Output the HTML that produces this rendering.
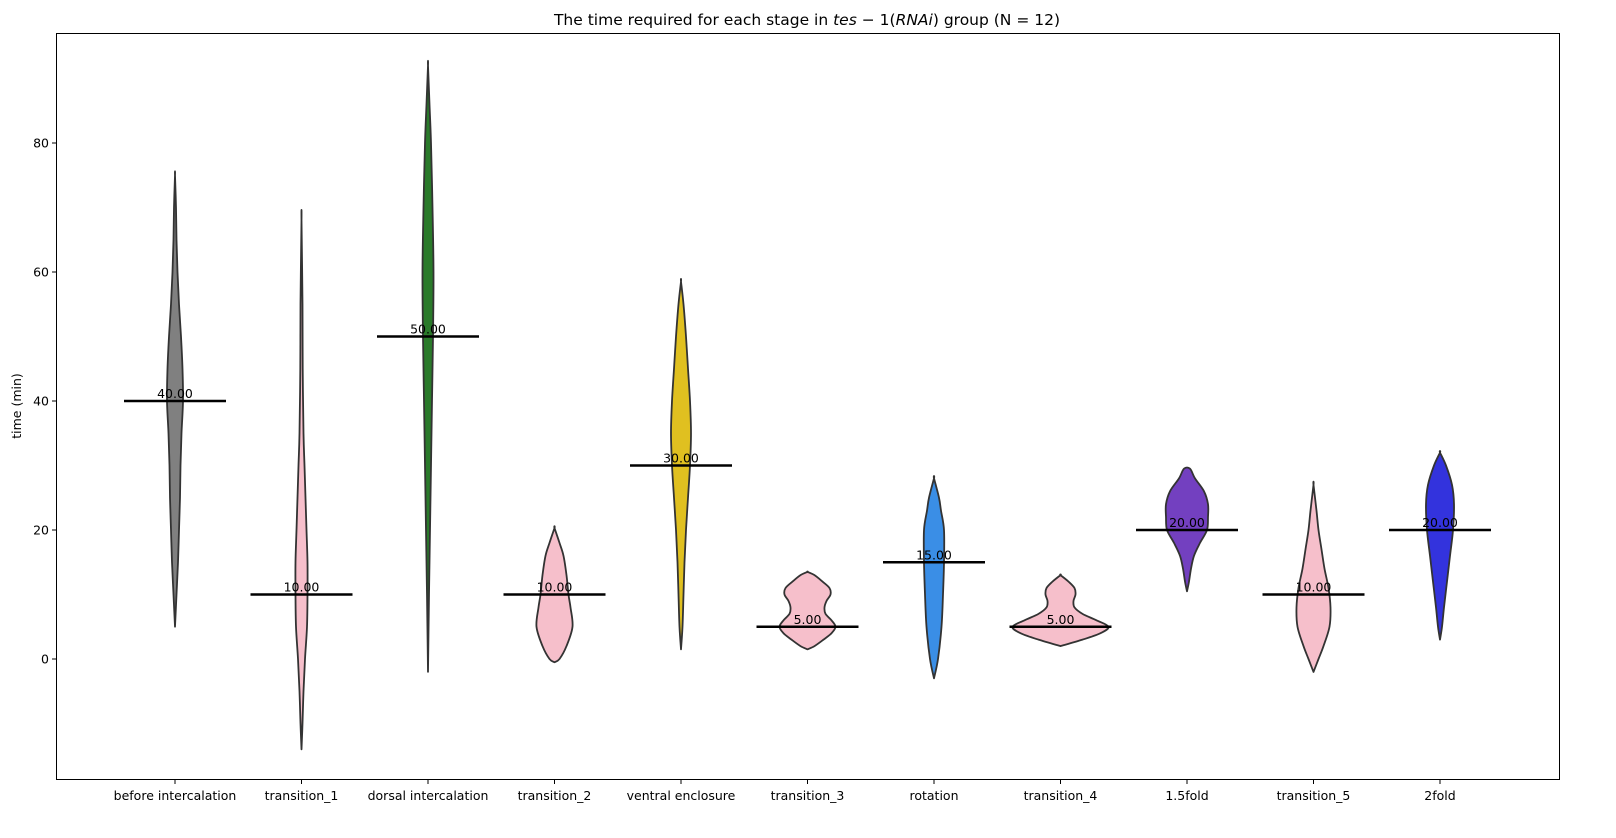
<!DOCTYPE html>
<html><head><meta charset="utf-8"><style>
body{margin:0;background:#fff}
svg{display:block;font-family:"DejaVu Sans","Liberation Sans",sans-serif}
</style></head><body>
<svg id="chart" width="1616" height="838" xmlns="http://www.w3.org/2000/svg">
<rect x="0" y="0" width="1616" height="838" fill="#fff"/>
<text x="807" y="25" text-anchor="middle" font-size="15.5" fill="#000">The time required for each stage in <tspan font-style="italic">tes</tspan> − 1(<tspan font-style="italic">RNAi</tspan>) group (N = 12)</text>
<text transform="translate(21,406) rotate(-90)" text-anchor="middle" font-size="12.5">time (min)</text>
<g id="yaxis"></g>
<g id="xaxis"></g>
<g id="violins"></g>
<rect x="56.5" y="33.5" width="1503" height="746" fill="none" stroke="#000" stroke-width="1"/>
</svg>
<script>
const categories=["before intercalation","transition_1","dorsal intercalation","transition_2","ventral enclosure","transition_3","rotation","transition_4","1.5fold","transition_5","2fold"];
const medians=[40,10,50,10,30,5,15,5,20,10,20];
const medianLabels=["40.00","10.00","50.00","10.00","30.00","5.00","15.00","5.00","20.00","10.00","20.00"];
const yTicks=[0,20,40,60,80];
const colors=["#808080","#f6bfcb","#2a7a2a","#f6bfcb","#e0c020","#f6bfcb","#3a8ee6","#f6bfcb","#7340c0","#f6bfcb","#3333dd"];
// density profiles: [value, half-width]
const profile0=[[5,0],[10,1.5],[15,3],[20,4],[25,5],[30,5.5],[35,6.5],[40,8],[45,7.5],[50,6],[55,4],[60,2.5],[65,1.5],[70,1],[75,0]];
const profile1=[[-14,0],[-10,1],[-5,2],[0,3.5],[5,5.5],[10,6],[15,6],[20,5],[25,4],[30,3],[35,2],[45,1.2],[55,1],[68,0]];
const profile2=[[-2,0],[10,1],[20,2],[30,3],[40,4],[50,5],[60,5.5],[70,4.5],[80,3],[86,1.5],[92,0]];
const profile3=[[-0.5,0],[0,5],[2,12],[5,18],[8,16],[10,14],[13,12],[16,9],[18,5],[20.3,0]];
const profile4=[[1.5,0],[5,1.5],[10,2.5],[15,3.5],[20,5],[25,7],[30,9],[35,10],[40,9],[45,7],[50,5],[55,2.5],[58.5,0]];
const profile5=[[1.5,0],[2,7],[3,16],[4,24],[5,28],[6,24],[7,18],[8,17],[9,19],[10,23],[11,22],[12,15],[13,7],[13.5,0]];
const profile6=[[-3,0],[0,4],[5,7.5],[10,9],[15,10],[20,10],[23,7],[25,5],[28,0]];
const profile7=[[2,0],[3,22],[4,40],[5,48],[6,36],[7,22],[8,14],[9,13],[10,15],[11,14],[12,8],[13,0]];
const profile8=[[10.5,0],[12,2],[14,4],[16,7],[18,13],[20,20],[22,21],[24,21],[26,17],[28,8],[29.5,3]];
const profile9=[[-2,0],[0,5],[2,10],[5,16],[8,17],[11,15],[14,11],[17,8],[20,5],[23,3],[27,0]];
const profile10=[[3,0],[5,2],[8,4],[12,7],[16,10],[20,13],[24,14],[27,12],[30,6],[32,0]];
const profiles=[profile0,profile1,profile2,profile3,profile4,profile5,profile6,profile7,profile8,profile9,profile10];

const NS="http://www.w3.org/2000/svg";
const y=v=>659-v*6.45;
const x=i=>175+i*126.5;
function mk(tag,attrs,parent){const e=document.createElementNS(NS,tag);for(const k in attrs)e.setAttribute(k,attrs[k]);parent.appendChild(e);return e;}
function smooth(pts){
  let d='M'+pts[0][0]+','+pts[0][1];
  for(let i=0;i<pts.length-1;i++){
    const p0=pts[Math.max(0,i-1)],p1=pts[i],p2=pts[i+1],p3=pts[Math.min(pts.length-1,i+2)];
    const c1=[p1[0]+(p2[0]-p0[0])/6,p1[1]+(p2[1]-p0[1])/6];
    const c2=[p2[0]-(p3[0]-p1[0])/6,p2[1]-(p3[1]-p1[1])/6];
    d+='C'+c1[0]+','+c1[1]+' '+c2[0]+','+c2[1]+' '+p2[0]+','+p2[1];
  }
  return d;
}
const ya=document.getElementById('yaxis'),xa=document.getElementById('xaxis'),vg=document.getElementById('violins');
yTicks.forEach(t=>{
  const l=mk('line',{x1:52,x2:56,y1:y(t),y2:y(t),stroke:'#000'},ya);
  
  
  const tx=mk('text',{x:49,y:y(t)+4.5,'text-anchor':'end','font-size':12.5},ya);
  tx.textContent=t;
  
  
});
categories.forEach((c,i)=>{
  const l=mk('line',{x1:x(i),x2:x(i),y1:780,y2:784,stroke:'#000'},xa);
  
  
  const tx=mk('text',{x:x(i),y:800,'text-anchor':'middle','font-size':12.5},xa);
  tx.textContent=c;
  
  
  const p=profiles[i];
  const pts=[];
  p.forEach(pt=>pts.push([x(i)+pt[1],y(pt[0])]));
  for(let j=p.length-1;j>=0;j--)pts.push([x(i)-p[j][1],y(p[j][0])]);
  const d=smooth(pts)+'Z';
  const v=mk('path',{d:d,fill:colors[i],stroke:'#333','stroke-width':1.8,'stroke-linejoin':'round'},vg);
  
  
  const m=mk('line',{x1:x(i)-51,x2:x(i)+51,y1:y(medians[i]),y2:y(medians[i]),stroke:'#000','stroke-width':2.5},vg);
  
  
  const mt=mk('text',{x:x(i),y:y(medians[i])-3,'text-anchor':'middle','font-size':12.5},vg);
  mt.textContent=medianLabels[i];
  
  
});
</script>
</body></html>
